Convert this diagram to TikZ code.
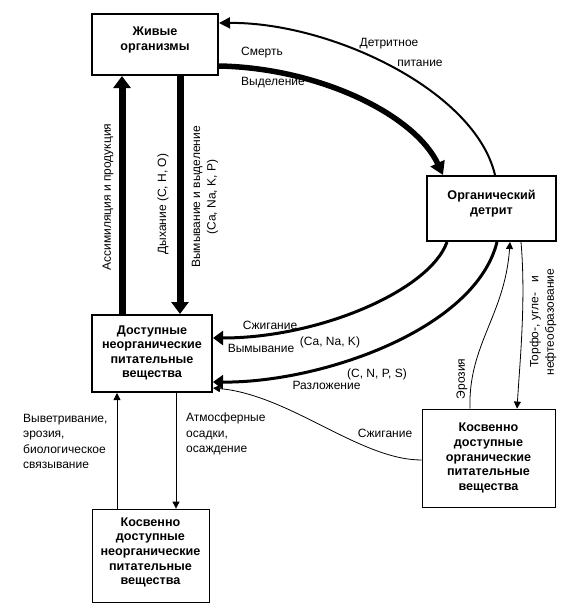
\documentclass[tikz,border=0pt]{standalone}
\usepackage{fontspec}
\setmainfont{Liberation Sans}
\usetikzlibrary{arrows.meta}
\begin{document}
\begin{tikzpicture}[x=1pt,y=-1pt,
  mybox/.style={draw, line width=2pt, inner sep=0pt},
  thinbox/.style={draw, line width=0.8pt, inner sep=0pt},
  bt/.style={font=\fontsize{12.6}{14.6}\selectfont\bfseries, align=center, inner sep=0pt},
  lbl/.style={font=\fontsize{12}{15.6}\selectfont, inner sep=0pt},
  bigarrow/.style={line width=7pt, -{Triangle[width=17pt,length=12pt]}},
  deatharrow/.style={line width=5.5pt, -{Triangle[width=15pt,length=13pt]}},
  medarrow/.style={line width=3pt, -{Triangle[width=14pt,length=10pt]}},
  detarrow/.style={line width=2pt, -{Triangle[width=11pt,length=11pt]}},
  thinarrow/.style={line width=0.8pt, -{Triangle[width=7pt,length=7pt]}}]
\useasboundingbox (0,0) rectangle (566,610);

% boxes
\node[mybox, minimum width=126pt, minimum height=61pt] (b1) at (155,44.5) {};
\node[bt] (t1) at (155,40) {Живые\\организмы};
\node[mybox, minimum width=129pt, minimum height=65pt] (b2) at (491.5,208.5) {};
\node[bt] (t2) at (491.5,203.5) {Органический\\детрит};
\node[mybox, minimum width=120pt, minimum height=77pt] (b3) at (152,353.5) {};
\node[bt] (t3) at (152,353) {Доступные\\неорганические\\питательные\\вещества};
\node[thinbox, minimum width=133pt, minimum height=98pt] (b4) at (488.5,458) {};
\node[bt] (t4) at (488.5,458) {Косвенно\\доступные\\органические\\питательные\\вещества};
\node[thinbox, minimum width=117pt, minimum height=93pt] (b5) at (150.5,555.5) {};
\node[bt] (t5) at (150.5,552.5) {Косвенно\\доступные\\неорганические\\питательные\\вещества};

% thick vertical arrows
\draw[bigarrow] ([xshift=-30pt]b3.north) -- ([xshift=-33pt]b1.south);
\draw[bigarrow] ([xshift=25pt]b1.south) -- ([xshift=28pt]b3.north);

% death / excretion
\draw[deatharrow] ([yshift=-21.5pt]b1.east) .. controls (320,68) and (415,115) .. ([xshift=-48.5pt]b2.north);
% detrital feeding
\draw[detarrow] ([xshift=3.5pt]b2.north) .. controls (475,90) and (330,22) .. ([yshift=21.5pt]b1.east);
% burning / leaching
\draw[medarrow] ([xshift=-44.5pt]b2.south) .. controls (430,290) and (320,338) .. ([yshift=15.5pt]b3.east);
% decomposition
\draw[medarrow] ([xshift=5.5pt]b2.south) .. controls (475,330) and (320,383) .. ([yshift=-28.5pt]b3.east);
% erosion
\draw[thinarrow] ([xshift=-18.5pt]b4.north) .. controls (468,345) and (505,315) .. ([xshift=18.5pt]b2.south);
% peat formation
\draw[thinarrow] ([xshift=29.5pt]b2.south) .. controls (526,300) and (520,360) .. ([xshift=28.5pt]b4.north);
% burning thin
\draw[thinarrow] ([yshift=-2pt]b4.west) .. controls (360,460) and (290,395) .. ([yshift=-34.5pt]b3.east);
% left thin arrows
\draw[thinarrow] ([xshift=-33.5pt]b5.north) -- ([xshift=-35pt]b3.south);
\draw[thinarrow] ([xshift=24pt]b3.south) -- ([xshift=25.5pt]b5.north);

% labels
\node[lbl] (l1) at (262,53) {Смерть};
\node[lbl] (l2) at (273,83) {Выделение};
\node[lbl] (l3) at (389,44) {Детритное};
\node[lbl] (l4) at (420,63) {питание};
\node[lbl, rotate=90] (l5) at (108,197) {Ассимиляция и продукция};
\node[lbl, rotate=90] (l6) at (163,204) {Дыхание (C, H, O)};
\node[lbl, rotate=90, align=center] (l7) at (205,197) {Вымывание и выделение\\(Ca, Na, K, P)};
\node[lbl] (l8) at (270,325) {Сжигание};
\node[lbl] (l9) at (261,348) {Вымывание};
\node[lbl] (l10) at (330,342) {(Ca, Na, K)};
\node[lbl] (l11) at (377,374) {(C, N, P, S)};
\node[lbl] (l12) at (326.5,385) {Разложение};
\node[lbl] (l13) at (385,433) {Сжигание};
\node[lbl, rotate=90] (l14) at (462,379) {Эрозия};
\node[lbl, rotate=90, align=center] (l15) at (543,322) {Торфо-, угле-\ \ \ и\\нефтеобразование};
\node[lbl, align=left, anchor=west] (l16) at (23,441.5) {Выветривание,\\эрозия,\\биологическое\\связывание};
\node[lbl, align=left, anchor=west] (l17) at (186,434) {Атмосферные\\осадки,\\осаждение};
\end{tikzpicture}
\end{document}
